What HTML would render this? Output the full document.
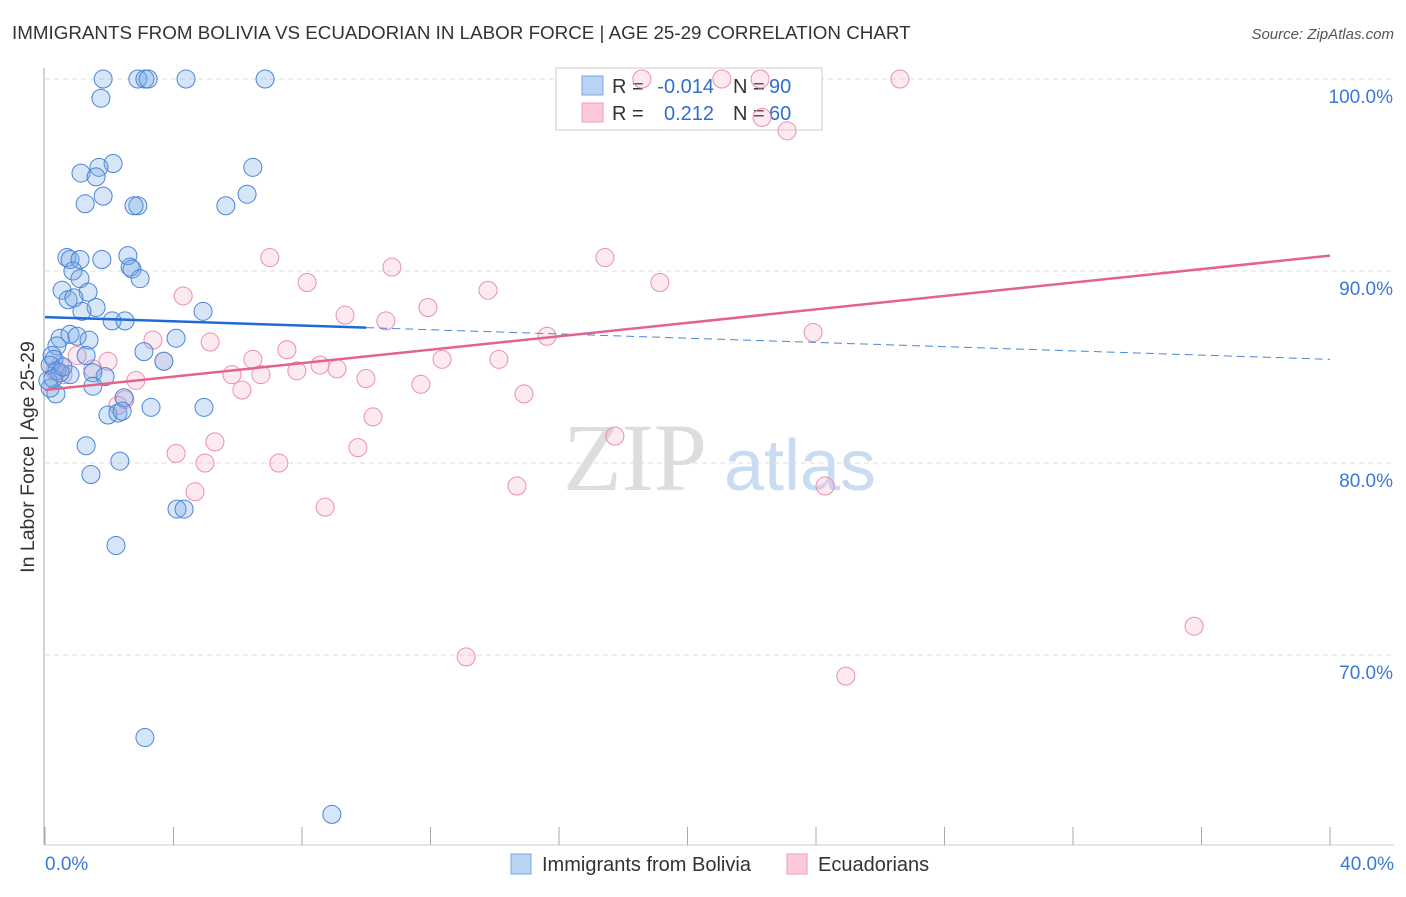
<!DOCTYPE html>
<html><head><meta charset="utf-8"><style>
body{margin:0;background:#fff;font-family:"Liberation Sans",sans-serif}
</style></head><body>
<svg id="c" width="1406" height="892" xmlns="http://www.w3.org/2000/svg">
<text x="12" y="39" font-size="18.8" fill="#333">IMMIGRANTS FROM BOLIVIA VS ECUADORIAN IN LABOR FORCE | AGE 25-29 CORRELATION CHART</text>
<text x="1394" y="39" font-size="15" fill="#555" font-style="italic" text-anchor="end">Source: ZipAtlas.com</text>
<text x="34" y="457" font-size="19.5" fill="#333" text-anchor="middle" transform="rotate(-90 34 457)">In Labor Force | Age 25-29</text>
<g><text x="635" y="490" font-size="96" fill="#ddd" font-family="Liberation Serif,serif" text-anchor="middle">ZIP</text><text x="800" y="490" font-size="72" fill="#c9dcf2" text-anchor="middle">atlas</text></g>
<g id="grid"></g>
<g>
<rect x="556" y="68" width="266" height="62" fill="#fff" stroke="#ccc"/>
<rect x="582" y="76" width="21" height="19" fill="#b9d3f3" stroke="#7aaae6"/>
<rect x="582" y="103" width="21" height="19" fill="#fcc9d8" stroke="#f19ab5"/>
<g font-size="20" fill="#333">
<text x="612" y="93">R =</text><text x="714" y="93" text-anchor="end" fill="#2e6fcf">-0.014</text><text x="733" y="93">N =</text><text x="769" y="93" fill="#2e6fcf">90</text>
<text x="612" y="120">R =</text><text x="714" y="120" text-anchor="end" fill="#2e6fcf">0.212</text><text x="733" y="120">N =</text><text x="769" y="120" fill="#2e6fcf">60</text>
</g>
</g>
<g id="marks"></g>
<g>
<rect x="511" y="854" width="20" height="20" fill="#b9d3f3" stroke="#7aaae6"/>
<text x="542" y="871" font-size="20" fill="#333">Immigrants from Bolivia</text>
<rect x="787" y="854" width="20" height="20" fill="#fcc9d8" stroke="#f19ab5"/>
<text x="818" y="871" font-size="20" fill="#333">Ecuadorians</text>
</g>
</svg>
<script>
const blueX=[1.81,2.89,3.11,3.21,4.39,6.85,1.74,2.12,1.68,1.12,1.59,1.81,1.25,2.89,2.77,6.47,6.29,5.63,0.68,0.78,1.09,1.77,2.58,2.65,2.71,2.96,0.87,1.09,0.53,1.34,0.72,0.90,1.59,1.15,2.09,2.49,4.92,4.08,0.47,0.78,1.00,1.37,0.37,0.22,0.28,1.28,3.08,3.70,0.16,0.37,0.78,1.49,1.87,1.49,0.34,0.16,2.46,1.96,2.27,2.40,3.30,4.95,1.28,2.33,1.43,4.11,4.33,2.21,3.11,8.93,0.47,0.09,0.25,0.56];
const blueY=[100,100,100,100,100,100,99.0,95.6,95.4,95.1,94.9,93.9,93.5,93.4,93.4,95.4,94.0,93.4,90.7,90.6,90.6,90.6,90.8,90.2,90.1,89.6,90.0,89.6,89.0,88.9,88.5,88.6,88.1,87.9,87.4,87.4,87.9,86.5,86.5,86.7,86.6,86.4,86.1,85.6,85.4,85.6,85.8,85.3,85.1,84.8,84.6,84.7,84.5,84.0,83.6,83.9,83.4,82.5,82.6,82.7,82.9,82.9,80.9,80.1,79.4,77.6,77.6,75.7,65.7,61.7,84.7,84.3,84.4,85.0];
const pinkX=[7.00,8.16,10.80,17.43,19.14,13.79,11.92,4.30,9.34,10.61,15.63,23.91,5.14,7.53,3.36,1.96,3.70,6.47,7.84,8.56,9.09,6.72,5.82,9.99,12.36,14.13,2.83,6.13,11.70,14.91,1.49,1.00,0.47,2.49,2.27,10.21,5.29,4.08,4.98,7.28,9.74,17.74,4.67,14.69,24.28,8.72,13.11,24.93,35.77,26.61,18.58,21.07,22.26,22.32,23.10,0.56,0.31];
const pinkY=[90.7,89.4,90.2,90.7,89.4,89.0,88.1,88.7,87.7,87.4,86.6,86.8,86.3,85.9,86.4,85.3,85.3,85.4,84.8,85.1,84.9,84.6,84.6,84.4,85.4,85.4,84.3,83.8,84.1,83.6,84.9,85.6,85.1,83.3,83.0,82.4,81.1,80.5,80.0,80.0,80.8,81.4,78.5,78.8,78.8,77.7,69.9,68.9,71.5,100,100,100,100,98.0,97.3,84.6,84.8];
const yTicks=[100,90,80,70];
const yTickLabels=["100.0%","90.0%","80.0%","70.0%"];
const xTicks=[0,4,8,12,16,20,24,28,32,36,40];
const blueTrend=[87.6,85.4];
const pinkTrend=[83.8,90.8];
const sx=v=>45+v*32.125, sy=v=>79+(100-v)*19.2;
const NS="http://www.w3.org/2000/svg";
function mk(t,a,p){const e=document.createElementNS(NS,t);for(const k in a)e.setAttribute(k,a[k]);p.appendChild(e);return e;}
const g=document.getElementById('grid'),m=document.getElementById('marks');
yTicks.forEach((v,i)=>{
 const l=mk('line',{x1:45,x2:1394,y1:sy(v),y2:sy(v),stroke:'#ddd','stroke-dasharray':'5,4'},g);
 
 
 const t=mk('text',{x:1393,y:sy(v)+24,'font-size':19,fill:'#3b78d8','text-anchor':'end'},g);t.textContent=yTickLabels[i];
 
 
});
const ax=mk('line',{x1:44,x2:44,y1:68,y2:845,stroke:'#aaa'},g);


const bx=mk('line',{x1:44,x2:1394,y1:845,y2:845,stroke:'#ccc'},g);


xTicks.forEach(v=>{const l=mk('line',{x1:sx(v),x2:sx(v),y1:827,y2:845,stroke:'#aaa'},g);
 
 });
[[0,"0.0%",'start',45],[40,"40.0%",'end',1394]].forEach(([v,s,a,x])=>{const t=mk('text',{x:x,y:870,'font-size':19,fill:'#3b78d8','text-anchor':a},g);t.textContent=s;
 
 });
pinkX.forEach((x,i)=>{const c=mk('circle',{cx:sx(x),cy:sy(pinkY[i]),r:9,fill:'rgba(248,170,195,0.25)',stroke:'#eb8fae','stroke-width':1},m);
 
 });
blueX.forEach((x,i)=>{const c=mk('circle',{cx:sx(x),cy:sy(blueY[i]),r:9,fill:'rgba(120,170,230,0.3)',stroke:'#4a86d8','stroke-width':1},m);
 
 });
const bAt=x=>blueTrend[0]+(blueTrend[1]-blueTrend[0])*x/40;
const l1=mk('line',{x1:sx(0),y1:sy(bAt(0)),x2:sx(10),y2:sy(bAt(10)),stroke:'#1f6ad6','stroke-width':2.5},m);


const l2=mk('line',{x1:sx(10),y1:sy(bAt(10)),x2:sx(40),y2:sy(bAt(40)),stroke:'#4a86d8','stroke-width':1,'stroke-dasharray':'8,5'},m);


const l3=mk('line',{x1:sx(0),y1:sy(pinkTrend[0]),x2:sx(40),y2:sy(pinkTrend[1]),stroke:'#e4628e','stroke-width':2.5},m);


</script>
</body></html>
